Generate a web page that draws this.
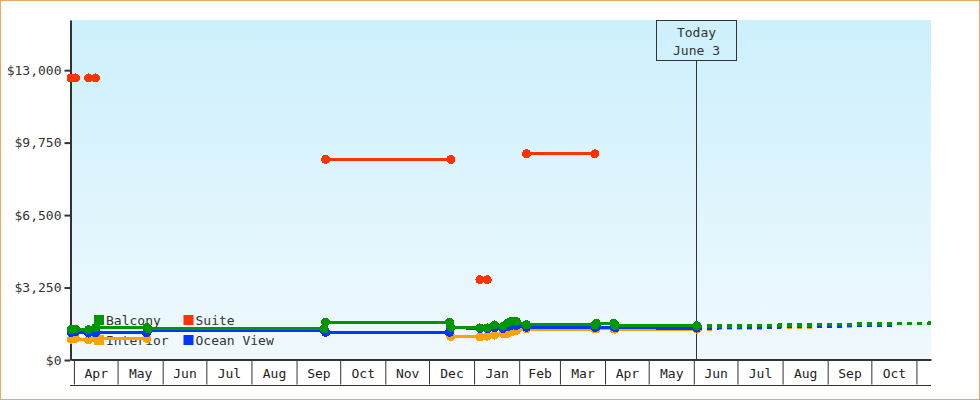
<!DOCTYPE html>
<html>
<head>
<meta charset="utf-8">
<script src="https://cdn.jsdelivr.net/npm/d3@7"></script>
<style>
  body { margin: 0; background: #fff; }
  svg { display: block; font-family: 'DejaVu Sans Mono', monospace; }
</style>
</head>
<body>
<script>
// cabin prices over time, one array pair per cabin type (null = no quote)
const balconyDates = ['2022-03-30', '2022-04-02', '2022-04-11', '2022-04-16', '2022-05-21', '2022-05-22',
  '2022-09-20', '2022-09-21', '2022-12-15', '2022-12-16', '2023-01-05', '2023-01-10', '2023-01-15',
  '2023-01-21', '2023-01-24', '2023-01-27', '2023-01-30', '2023-02-06', '2023-03-25', '2023-03-26',
  '2023-04-07', '2023-04-08', '2023-06-03'];
const balconyPrices = [1360, 1390, 1360, 1460, 1460, 1395, 1395, 1700, 1700, 1470, 1440, 1440, 1570,
  1520, 1660, 1740, 1730, 1580, 1570, 1650, 1650, 1545, 1540];

const oceanDates = balconyDates;
const oceanPrices = [1240, 1270, 1210, 1220, 1210, 1330, 1330, 1240, 1240, 1450, 1420, 1400, 1450,
  1420, 1480, 1560, 1550, 1460, 1460, 1480, 1480, 1440, 1430];

const interiorDates = ['2022-03-30', '2022-04-02', '2022-04-11', '2022-04-16', '2022-05-21', '2022-05-22',
  '2022-12-16', '2023-01-05', '2023-01-10', '2023-01-15', '2023-01-21', '2023-01-24', '2023-01-27',
  '2023-01-30', '2023-02-06', '2023-03-25', '2023-03-26', '2023-04-07', '2023-04-08', '2023-06-03'];
const interiorPrices = [930, 960, 900, 960, 970, null, 1050, 1030, 1070, 1120, 1170, 1200, 1270,
  1320, 1390, 1390, 1400, 1400, 1380, 1380];

const suiteDates = ['2022-03-30', '2022-04-02', '2022-04-05', '2022-04-11', '2022-04-16', '2022-05-01',
  '2022-09-21', '2022-12-16', '2022-12-25', '2023-01-05', '2023-01-10', '2023-01-20', '2023-02-06',
  '2023-03-25'];
const suitePrices = [12650, 12650, null, 12650, 12650, null, 9000, 9000, null, 3600, 3600, null, 9250, 9250];

// projected prices after today (dotted)
const balconyForecastDates = ['2023-06-03', '2023-11-11'];
const balconyForecast = [1510, 1650];
const oceanForecastDates = ['2023-06-03', '2023-10-18'];
const oceanForecast = [1430, 1575];
const interiorForecastDates = ['2023-06-03', '2023-09-21'];
const interiorForecast = [1385, 1530];

const yTicks = [0, 3250, 6500, 9750, 13000];
const startDate = '2022-03-30';
const endDate = '2023-11-11';
const todayDate = '2023-06-03';
const todayLabel = ['Today', 'June 3'];

const width = 980;
const height = 400;
const margin = { left: 71, right: 49, top: 20, bottom: 40 };
const textColor = '#333';

const parse = d3.timeParse('%Y-%m-%d');
const zip = (dates, values) => dates.map((d, i) => ({ date: parse(d), v: values[i] }));

const series = [
  { name: 'Interior', color: '#ffa200', data: zip(interiorDates, interiorPrices), fc: zip(interiorForecastDates, interiorForecast) },
  { name: 'Ocean View', color: '#0036ff', data: zip(oceanDates, oceanPrices), fc: zip(oceanForecastDates, oceanForecast) },
  { name: 'Balcony', color: '#009600', data: zip(balconyDates, balconyPrices), fc: zip(balconyForecastDates, balconyForecast) },
  { name: 'Suite', color: '#ff3300', data: zip(suiteDates, suitePrices), fc: null }
];
const legendOrder = ['Balcony', 'Suite', 'Interior', 'Ocean View'];

const svg = d3
  .select('body')
  .append('svg')
  .attr('width', width)
  .attr('height', height);

svg
  .append('rect')
  .attr('x', 0.5)
  .attr('y', 0.5)
  .attr('width', width - 1)
  .attr('height', height - 1)
  .attr('fill', '#fff')
  .attr('stroke', '#eaa862');

const grad = svg
  .append('defs')
  .append('linearGradient')
  .attr('id', 'bg')
  .attr('x1', 0)
  .attr('y1', 0)
  .attr('x2', 0)
  .attr('y2', 1);
grad.append('stop').attr('offset', '0%').attr('stop-color', '#ccf0fc');
grad.append('stop').attr('offset', '100%').attr('stop-color', '#f0f9fe');

const x = d3
  .scaleTime()
  .domain([parse(startDate), parse(endDate)])
  .range([margin.left, width - margin.right]);

const y = d3
  .scaleLinear()
  .domain([0, 15250])
  .range([height - margin.bottom, margin.top]);

const [x0, x1] = x.range();
const [yb, yt] = y.range();

svg
  .append('rect')
  .attr('x', x0)
  .attr('y', yt)
  .attr('width', x1 - x0)
  .attr('height', yb - yt)
  .attr('fill', 'url(#bg)');

// month cells under the plot
const xCells = svg
  .append('g')
  .attr('transform', `translate(0, ${yb - 0.5})`)
  .call(
    d3
      .axisBottom(x)
      .ticks(d3.timeMonth.every(1))
      .tickSize(25)
      .tickSizeOuter(0)
      .tickFormat('')
  );
xCells.select('.domain').attr('stroke', textColor).attr('stroke-width', 2);
xCells.selectAll('.tick line').attr('stroke', textColor);

svg
  .append('line')
  .attr('x1', x0 - 1)
  .attr('x2', x1)
  .attr('y1', yb + 25.5)
  .attr('y2', yb + 25.5)
  .attr('stroke', textColor);

const midMonths = d3.timeMonth
  .range(x.domain()[0], x.domain()[1])
  .filter(m => d3.timeMonth.offset(m, 1) <= x.domain()[1])
  .map(m => new Date((+m + +d3.timeMonth.offset(m, 1)) / 2));

const xLabels = svg
  .append('g')
  .attr('transform', `translate(0, ${yb})`)
  .call(
    d3
      .axisBottom(x)
      .tickValues(midMonths)
      .tickSize(0)
      .tickPadding(9)
      .tickFormat(d3.timeFormat('%b'))
  );
xLabels.select('.domain').remove();
xLabels
  .selectAll('text')
  .attr('fill', '#222')
  .style('font-size', '13px')
  .style('font-family', "'DejaVu Sans Mono', monospace");

const yAxis = svg
  .append('g')
  .attr('transform', `translate(${x0 - 0.5}, 0)`)
  .call(
    d3
      .axisLeft(y)
      .tickValues(yTicks)
      .tickSize(6)
      .tickSizeOuter(0)
      .tickPadding(3)
      .tickFormat(d => '$' + d3.format(',')(d))
  );
yAxis.select('.domain').attr('stroke', textColor).attr('stroke-width', 2);
yAxis.selectAll('.tick line').attr('stroke', textColor).attr('stroke-width', 2);
yAxis
  .selectAll('text')
  .attr('fill', textColor)
  .style('font-size', '13px')
  .style('font-family', "'DejaVu Sans Mono', monospace");

// today marker
const tx = Math.round(x(parse(todayDate))) - 0.5;
svg
  .append('line')
  .attr('x1', tx)
  .attr('x2', tx)
  .attr('y1', yt + 40)
  .attr('y2', yb)
  .attr('stroke', textColor);
svg
  .append('rect')
  .attr('x', tx - 40)
  .attr('y', yt + 0.5)
  .attr('width', 80)
  .attr('height', 40)
  .attr('fill', 'none')
  .attr('stroke', textColor);
svg
  .selectAll('.today-label')
  .data(todayLabel)
  .enter()
  .append('text')
  .attr('class', 'today-label')
  .attr('x', tx)
  .attr('y', (d, i) => yt + 17 + i * 18)
  .attr('text-anchor', 'middle')
  .attr('fill', textColor)
  .style('font-size', '13px')
  .text(d => d);

// legend
const legend = svg.append('g').attr('transform', 'translate(94, 315)');
legendOrder.forEach((name, i) => {
  const s = series.find(d => d.name === name);
  const g = legend
    .append('g')
    .attr('transform', `translate(${(i % 2) * 89.5}, ${Math.floor(i / 2) * 20})`);
  g.append('rect').attr('width', 10).attr('height', 10).attr('fill', s.color);
  g.append('text')
    .attr('x', 12)
    .attr('y', 10)
    .attr('fill', textColor)
    .style('font-size', '13px')
    .text(name);
});

const line = d3
  .line()
  .defined(d => d.v != null)
  .x(d => x(d.date))
  .y(d => y(d.v));

const plot = svg.append('g').attr('shape-rendering', 'crispEdges');

series.forEach(s => {
  if (s.fc) {
    plot
      .append('path')
      .datum(s.fc)
      .attr('d', line)
      .attr('fill', 'none')
      .attr('stroke', s.color)
      .attr('stroke-width', 3.5)
      .attr('stroke-dasharray', '5,5');
  }
});

series.forEach(s => {
  plot
    .append('path')
    .datum(s.data)
    .attr('d', line)
    .attr('fill', 'none')
    .attr('stroke', s.color)
    .attr('stroke-width', 3);

  plot
    .selectAll(null)
    .data(s.data.filter(d => d.v != null))
    .enter()
    .append('circle')
    .attr('cx', d => x(d.date))
    .attr('cy', d => y(d.v))
    .attr('r', 4.5)
    .attr('fill', s.color);
});
</script>
</body>
</html>
